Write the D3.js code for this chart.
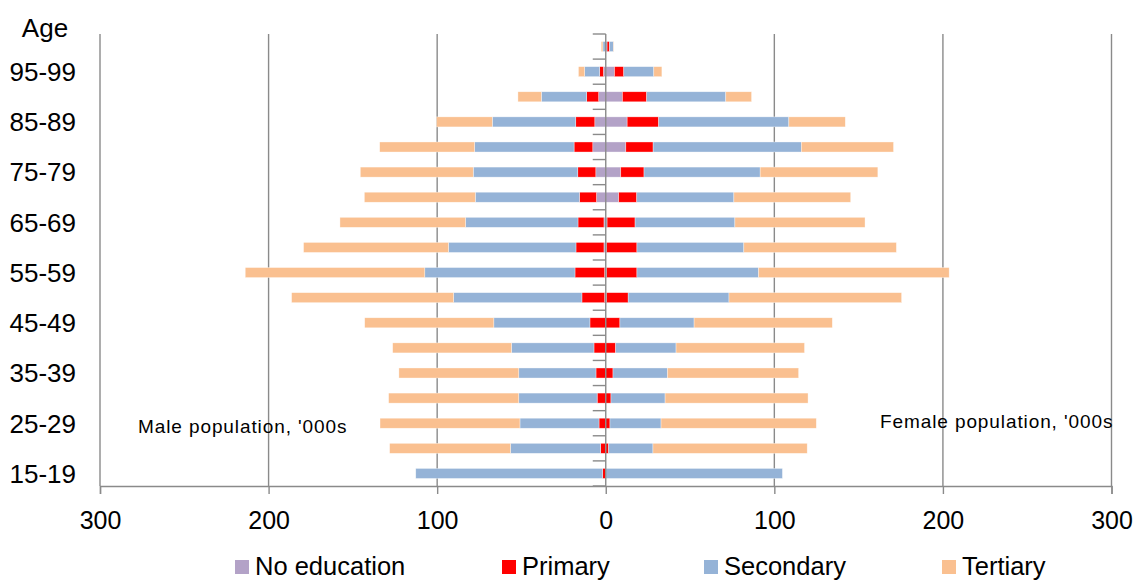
<!DOCTYPE html>
<html>
<head>
<meta charset="utf-8">
<script src="https://cdn.jsdelivr.net/npm/d3@7"></script>
<style>
  html, body { margin: 0; padding: 0; background: #fff; }
  svg { display: block; font-family: "Liberation Sans", Arial, sans-serif; }
</style>
</head>
<body>
<svg id="chart" width="1137" height="581"></svg>
<script>
// ---- data (bottom to top) ----
const ageGroups = ["15-19","20-24","25-29","30-34","35-39","40-44","45-49","50-54","55-59",
                   "60-64","65-69","70-74","75-79","80-84","85-89","90-94","95-99","100+"];
const ageTickLabels = ["15-19","25-29","35-39","45-49","55-59","65-69","75-79","85-89","95-99"];
const seriesNames = ["No education","Primary","Secondary","Tertiary"];
const seriesColors = ["#B3A2C7","#FF0000","#95B3D7","#FAC090"];

const maleNoEducation = [0,0,0,0,0,0,0,0.65,0.65,1.07,1.07,5.5,5.9,7.7,6.5,4.2,1.4,0.1];
const malePrimary     = [1.8,3.0,4.0,5.1,5.8,7.0,9.4,13.5,17.6,16.6,15.4,10.1,10.7,11.1,11.3,7.1,2.2,0.1];
const maleSecondary   = [110.9,53.5,46.9,46.5,45.8,48.9,57,76.1,89.1,75.6,66.7,61.8,62,59,49.5,26.9,8.9,1.5];
const maleTertiary    = [0,71.7,83,77.2,71.1,70.5,76.6,96.1,106.5,86,74.5,65.8,67,56.3,33.1,13.9,3.7,1.0];

const femaleNoEducation = [0,0,0,0,0,0,0,0.5,0.5,0.5,0.8,7.7,8.9,11.9,12.7,9.9,5.2,0.8];
const femalePrimary     = [0.1,1.7,2.5,3.1,4.3,5.9,8.4,12.8,18,18,16.6,10.7,13.8,16.2,18.7,14.4,5.5,1.4];
const femaleSecondary   = [104.7,26.3,30.3,32.1,32.3,35.8,44,59.8,72.1,63.4,59.2,57.6,68.9,87.9,77.2,46.9,17.8,2.4];
const femaleTertiary    = [0,91.5,92.1,84.8,77.8,76.2,82,102.4,113.1,90.5,77.2,69.3,69.8,54.7,33.5,15.3,4.8,0.3];

const xTickValues = [-300,-200,-100,0,100,200,300];
const maleLabel = "Male population, '000s";
const femaleLabel = "Female population, '000s";
const ageTitle = "Age";

// ---- build tables ----
const keys = ["ne","pr","se","te"];
const maleRows = ageGroups.map((a,i)=>({age:a, ne:maleNoEducation[i], pr:malePrimary[i], se:maleSecondary[i], te:maleTertiary[i]}));
const femaleRows = ageGroups.map((a,i)=>({age:a, ne:femaleNoEducation[i], pr:femalePrimary[i], se:femaleSecondary[i], te:femaleTertiary[i]}));
const stack = d3.stack().keys(keys);
const maleStack = stack(maleRows);
const femaleStack = stack(femaleRows);

// ---- scales ----
const svg = d3.select("#chart");
const plotTop = 34, plotBottom = 486;
const x = d3.scaleLinear().domain([-300,300]).range([100,1111.5]);
const y = d3.scaleBand().domain(ageGroups.slice().reverse()).range([plotTop, plotBottom])
            .paddingInner(0.6).paddingOuter(0.3);
const color = d3.scaleOrdinal().domain(keys).range(seriesColors);
const gridColor = "#8a8a8a";

// gridlines (behind bars)
svg.append("g").selectAll("line").data(xTickValues.filter(v=>v!==0)).join("line")
  .attr("x1", d=>x(d)).attr("x2", d=>x(d))
  .attr("y1", plotTop).attr("y2", plotBottom)
  .attr("stroke", gridColor).attr("stroke-width", 1.4);

// bars
function drawSide(stacked, sign) {
  svg.append("g").selectAll("g").data(stacked).join("g")
    .attr("fill", d=>color(d.key))
    .selectAll("rect").data(d=>d).join("rect")
      .attr("x", d=> sign<0 ? x(-d[1]) : x(d[0]))
      .attr("width", d=> Math.abs(x(d[1]) - x(d[0])))
      .attr("y", d=>y(d.data.age))
      .attr("height", y.bandwidth())
      .attr("stroke", "#ffffff").attr("stroke-width", 0.6).attr("stroke-opacity", 0.6);
}
drawSide(maleStack, -1);
drawSide(femaleStack, 1);

// bottom axis
const xAxis = svg.append("g").attr("transform", `translate(0,${plotBottom})`)
  .call(d3.axisBottom(x).tickValues(xTickValues).tickFormat(d=>Math.abs(d)).tickSize(8).tickPadding(17));
xAxis.select(".domain").attr("stroke", gridColor).attr("stroke-width", 1.4);
xAxis.selectAll(".tick line").attr("stroke", gridColor).attr("stroke-width", 1.4);
xAxis.selectAll(".tick text").attr("font-size", "25px").attr("fill", "#000")
  .attr("font-family", "'Liberation Sans', Arial, sans-serif");

// center axis with ticks at category boundaries
const step = y.step();
const boundaries = d3.range(ageGroups.length + 1).map(i => plotTop + i*step);
const cg = svg.append("g");
cg.append("line").attr("x1", x(0)).attr("x2", x(0)).attr("y1", plotTop).attr("y2", plotBottom)
  .attr("stroke", gridColor).attr("stroke-width", 1.4);
cg.selectAll("line.t").data(boundaries).join("line").attr("class","t")
  .attr("x1", x(0)-13).attr("x2", x(0)).attr("y1", d=>d).attr("y2", d=>d)
  .attr("stroke", gridColor).attr("stroke-width", 1.4);

// y labels
svg.append("g").selectAll("text").data(ageTickLabels).join("text")
  .attr("x", 76).attr("y", d=>y(d) + y.bandwidth()/2)
  .attr("dy", "0.36em")
  .attr("text-anchor", "end").attr("font-size", "26px").attr("fill", "#000")
  .text(d=>d);
svg.append("text").attr("x", 45).attr("y", 37).attr("text-anchor", "middle")
  .attr("font-size", "26px").attr("fill", "#000").text(ageTitle);

// population labels
svg.append("text").attr("x", 138).attr("y", 433).attr("font-size", "19px")
  .attr("letter-spacing", "0.9px").attr("fill", "#000").text(maleLabel);
svg.append("text").attr("x", 880).attr("y", 427.5).attr("font-size", "19px")
  .attr("letter-spacing", "0.9px").attr("fill", "#000").text(femaleLabel);

// legend
const legendX = [235, 502, 704, 942];
const lg = svg.append("g");
seriesNames.forEach((name,i)=>{
  lg.append("rect").attr("x", legendX[i]).attr("y", 560).attr("width", 14).attr("height", 14)
    .attr("fill", seriesColors[i]);
  lg.append("text").attr("x", legendX[i] + 20).attr("y", 574.5).attr("font-size", "25.5px")
    .attr("fill", "#000").text(name);
});
</script>
</body>
</html>
